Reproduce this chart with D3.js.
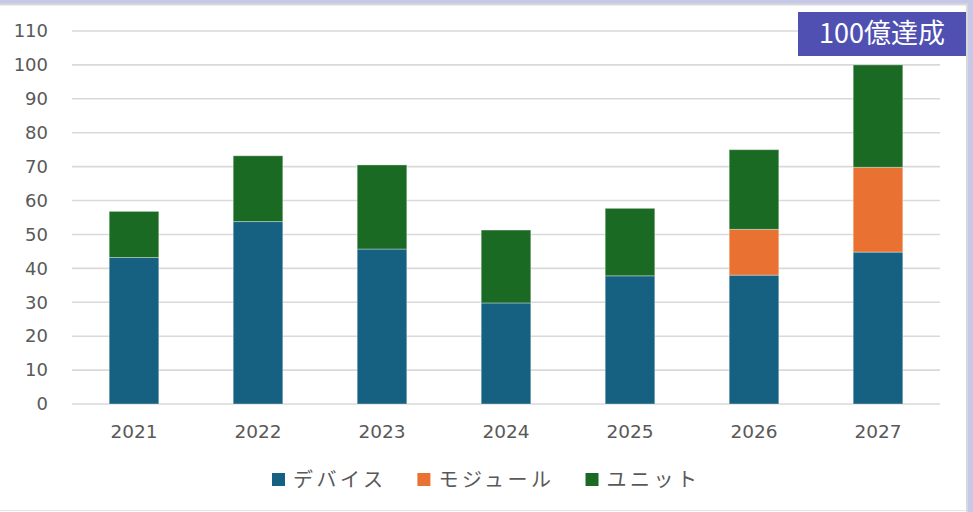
<!DOCTYPE html>
<html>
<head>
<meta charset="utf-8">
<script src="https://cdn.jsdelivr.net/npm/d3@7"></script>
<style>
  html, body { margin: 0; padding: 0; background: #c5c8e8; }
  svg { display: block; }
</style>
</head>
<body>
<svg id="chart"></svg>
<script>
const years = ['2021', '2022', '2023', '2024', '2025', '2026', '2027']
const seriesNames = ['デバイス', 'モジュール', 'ユニット']
const device = [43.2, 53.8, 45.7, 29.8, 37.8, 38, 44.8]
const module_ = [0, 0, 0, 0, 0, 13.5, 25]
const unit = [13.6, 19.4, 24.8, 21.5, 19.9, 23.5, 30.2]
const yTicks = [0, 10, 20, 30, 40, 50, 60, 70, 80, 90, 100, 110]
const badgeText = '100億達成'

const colors = ['#166082', '#e97132', '#1b6a24']

const width = 973
const height = 512
const svg = d3.select('#chart').attr('width', width).attr('height', height)

// white panel, light border on top/right, open at left/bottom
svg.append('rect')
  .attr('x', -2).attr('y', 4.5)
  .attr('width', 969).attr('height', 520)
  .attr('fill', '#fff')
  .attr('stroke', '#d9d9d9')
  .attr('stroke-width', 2)
svg.append('line')
  .attr('x1', 0).attr('x2', 966)
  .attr('y1', 510.5).attr('y2', 510.5)
  .attr('stroke', '#e6e6e6')

const table = years.map((y, i) => ({
  year: y,
  [seriesNames[0]]: device[i],
  [seriesNames[1]]: module_[i],
  [seriesNames[2]]: unit[i],
}))
const stacked = d3.stack().keys(seriesNames)(table)

const x = d3.scaleBand()
  .domain(years)
  .range([72, 940])
  .paddingInner(0.6)
  .paddingOuter(0.3)

const y = d3.scaleLinear().domain([0, 110]).range([404, 31])

// grid
svg.append('g')
  .selectAll('line')
  .data(yTicks)
  .join('line')
  .attr('x1', 72).attr('x2', 940)
  .attr('y1', (d) => y(d)).attr('y2', (d) => y(d))
  .attr('stroke', '#d9d9d9')
  .attr('stroke-width', 1.6)

// y axis labels
const yAxis = svg.append('g')
  .attr('transform', 'translate(48,0)')
  .call(d3.axisLeft(y).tickValues(yTicks).tickSize(0).tickPadding(0))
yAxis.select('.domain').remove()
yAxis.selectAll('text')
  .attr('fill', '#595959')
  .style('font-family', 'DejaVu Sans')
  .style('font-size', '18px')

// bars
svg.append('g')
  .selectAll('g')
  .data(stacked)
  .join('g')
  .attr('fill', (d, i) => colors[i])
  .selectAll('rect')
  .data((d) => d.filter((p) => p[1] - p[0] > 0))
  .join('rect')
  .attr('x', (d) => x(d.data.year))
  .attr('width', x.bandwidth())
  .attr('y', (d) => y(d[1]))
  .attr('height', (d) => y(d[0]) - y(d[1]))
  .attr('stroke', 'rgba(255,255,255,0.35)')
  .attr('stroke-width', 1)

// x axis labels
const xAxis = svg.append('g')
  .attr('transform', 'translate(0,404)')
  .call(d3.axisBottom(x).tickSize(0).tickPadding(21))
xAxis.select('.domain').remove()
xAxis.selectAll('text')
  .attr('fill', '#595959')
  .style('font-family', 'DejaVu Sans')
  .style('font-size', '18.5px')

// legend
const legend = svg.append('g').attr('transform', 'translate(272,480)')
let lx = 0
seriesNames.forEach((name, i) => {
  const g = legend.append('g').attr('transform', `translate(${lx},0)`)
  g.append('rect')
    .attr('x', 0).attr('y', -7)
    .attr('width', 13).attr('height', 13)
    .attr('fill', colors[i])
  const t = g.append('text')
    .attr('x', 21).attr('y', 7)
    .attr('fill', '#595959')
    .style('font-family', '"Noto Sans CJK JP"')
    .style('font-size', '20px')
    .style('letter-spacing', '3.5px')
    .text(name)
  lx += 21 + t.node().getComputedTextLength() + 31
})

// badge
svg.append('rect')
  .attr('x', 798).attr('y', 12)
  .attr('width', 168).attr('height', 44)
  .attr('fill', '#4f50b2')
svg.append('text')
  .attr('x', 882).attr('y', 43)
  .attr('text-anchor', 'middle')
  .attr('fill', '#fff')
  .style('font-family', '"Liberation Sans Narrow", "Noto Sans CJK JP"')
  .style('font-size', '27px')
  .text(badgeText)
</script>
</body>
</html>
